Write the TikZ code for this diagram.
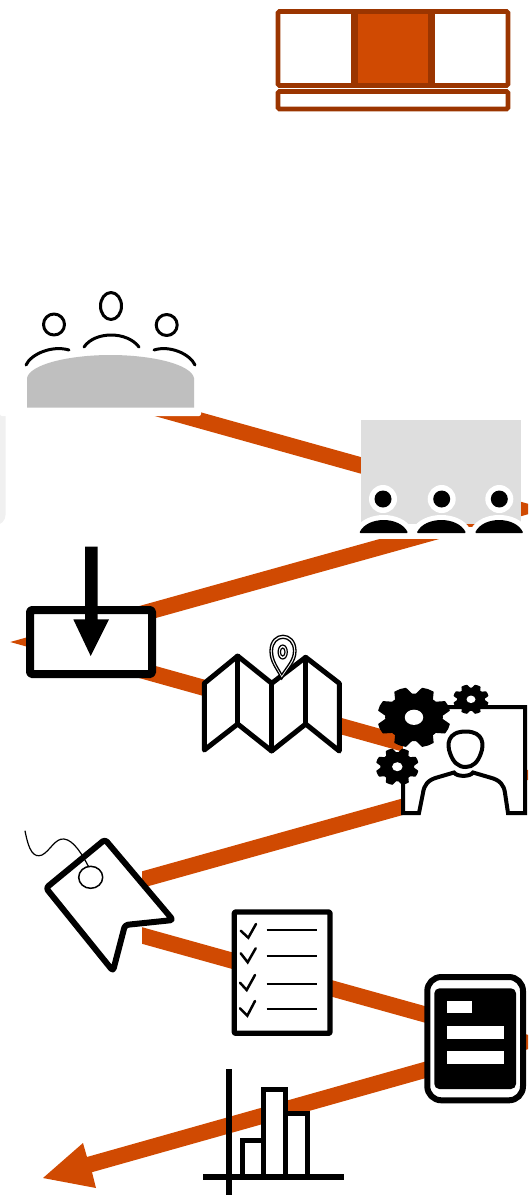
\documentclass[tikz,border=0pt]{standalone}
\definecolor{brand}{HTML}{D04A02}
\definecolor{branddark}{HTML}{9B3500}
\definecolor{tablegray}{HTML}{BFBFBF}
\definecolor{screengray}{HTML}{DEDEDE}
\definecolor{panelgray}{HTML}{F0F0F0}
\tikzset{
  route/.style={draw=brand,line width=16pt,line join=miter,line cap=butt},
  mask/.style={fill=white,draw=none},
  icon/.style={draw=black,fill=white,line width=#1,line join=round},
  icon/.default=5pt,
  stroke/.style={draw=black,line width=#1,line cap=round,line join=round},
  stroke/.default=3pt,
  frame/.style={draw=branddark,line width=4.7pt,rounded corners=1.5pt}
}
\newcommand{\gearicon}[5]{% x y rx ry hole ratio
  \begin{scope}[shift={(#1,#2)},xscale=#3,yscale=#4]
    \fill[black] (0,0) circle (0.78);
    \foreach \a in {22.5,67.5,...,337.5}{
      \fill[black,rotate=\a,rounded corners=0.4pt] (0.70,-0.26) -- (0.98,-0.17) -- (1,0) -- (0.98,0.17) -- (0.70,0.26) -- cycle;
    }
    \fill[white] (0,0) circle (#5);
  \end{scope}
}
\begin{document}
\begin{tikzpicture}[x=1pt,y=-1pt]
\useasboundingbox (0,0) rectangle (528,1195);
\clip (0,0) rectangle (528,1195);

% route vertices
\coordinate (r0) at (130,400.8);
\coordinate (r1) at (517,509);
\coordinate (r2) at (40,642);
\coordinate (r3) at (516,775);
\coordinate (r4) at (42,907.6);
\coordinate (r5) at (524,1042);
\coordinate (r6) at (88,1165);
\coordinate (tip) at (43,1178);
\coordinate (barbA) at (83,1143);
\coordinate (barbB) at (96,1188);

% side panel
\fill[panelgray,rounded corners=10pt] (-20,375) rectangle (5.5,525);

% route
\draw[route] (r0) -- (r1) -- (r2) -- (r3) -- (r4) -- (r5) -- (r6);
\fill[brand] (tip) -- (barbA) -- (87,1157) -- (92,1172) -- (barbB) -- cycle;

% masks that cut the route
\fill[mask,rounded corners=2pt] (0,350) rectangle (201,416);
\fill[mask] (355,527) rectangle (528,539);
\fill[mask] (0,860) rectangle (142,965);

% top layout icon
\fill[brand] (354.5,11.5) rectangle (431.5,85.5);
\draw[frame] (278,11.5) rectangle (508,85.5);
\draw[frame] (278,91.5) rectangle (508,109);
\draw[branddark,line width=7pt] (354.5,11.5) -- (354.5,85.5);
\draw[branddark,line width=7pt] (431.5,11.5) -- (431.5,85.5);

% meeting table
\draw[stroke=3pt] (54,324.5) circle (10.5);
\draw[stroke=3pt] (166.7,325) circle (10.5);
\draw[stroke=3pt] (111,306) ellipse (10.5 and 13.5);
\draw[stroke=3pt] (26,365) .. controls (31,354) and (52,345) .. (69,350);
\draw[stroke=3pt] (84,347) .. controls (95,331) and (127,331) .. (139,347);
\draw[stroke=3pt] (154,350) .. controls (170,345) and (190,354) .. (195,365);
\fill[tablegray] (27,407.7) -- (27,378) .. controls (30,364) and (70,355) .. (110.5,355) .. controls (151,355) and (191,364) .. (194,378) -- (194,407.7) -- cycle;

% audience
\fill[screengray] (361,420) rectangle (521,524);
\foreach \cx/\l/\r in {383/359.3/408,441.7/416.7/466,499.3/475/523.3}{
  \fill[white] (\cx,499) circle (14);
  \fill[black] (\cx,499) circle (8.5);
  \draw[white,line width=10pt,line join=round,fill=black] (\l,532) .. controls (\l+8,516) and (\r-8,516) .. (\r,532) -- cycle;
  \fill[black,rounded corners=1pt] (\l,533) .. controls (\l+8,516) and (\r-8,516) .. (\r,533) -- cycle;
}

% box with incoming arrow
\draw[icon=8pt,rounded corners=1.5pt] (30,610) rectangle (152,674);
\fill[black] (85,546.7) -- (97.7,546.7) -- (97.7,619.3) -- (109,619.3) -- (90.7,656) -- (73.3,619.3) -- (85,619.3) -- cycle;

% folded map
\fill[white] (204.3,683.3) -- (237.7,656) -- (271.7,683.3) -- (305.7,657.3) -- (339.3,683.3) -- (339.3,751) -- (305.7,724) -- (271.7,751) -- (237.7,724) -- (204.3,750) -- cycle;
\draw[stroke=5pt] (204.3,683.3) -- (237.7,656) -- (271.7,683.3) -- (305.7,657.3) -- (339.3,683.3) -- (339.3,751) -- (305.7,724) -- (271.7,751) -- (237.7,724) -- (204.3,750) -- cycle;
\draw[stroke=5pt] (237.7,656) -- (237.7,724) (271.7,683.3) -- (271.7,751) (305.7,657.3) -- (305.7,724);
\draw[draw=black,fill=white,line width=1.3pt] (281.7,679) .. controls (276,668) and (270,662) .. (270,651) .. controls (270,630) and (296,630) .. (296,651) .. controls (296,662) and (288,668) .. (281.7,679) -- cycle;
\draw[draw=black,line width=1.3pt] (281.8,674.5) .. controls (277,666) and (272.5,660) .. (272.5,651) .. controls (272.5,634) and (293.5,634) .. (293.5,651) .. controls (293.5,660) and (287,666) .. (281.8,674.5) -- cycle;
\draw[draw=black,line width=1.2pt] (282.7,652) ellipse (4.6 and 7);
\draw[draw=black,line width=1.2pt] (282.7,652) ellipse (2.3 and 4);

% person with gears
\fill[white] (403,707) -- (525,707) -- (525,813) -- (403,813) -- cycle;
\draw[stroke=4pt,line join=miter,line cap=butt] (440,707) -- (525,707) -- (525,813) -- (508,813) -- (505,793) .. controls (504,785) and (500,780) .. (490,777.5) -- (473,772.5) .. controls (470,777) and (457,777) .. (454,772.5) -- (437,777.5) .. controls (428,780) and (424,785) .. (423,793) -- (419,813) -- (403,813) -- (403,780);
\draw[stroke=4pt] (465.7,731.5) .. controls (447,731.5) and (447,745) .. (450,753) .. controls (453,762) and (458,767) .. (465.7,767) .. controls (473,767) and (478,762) .. (481,753) .. controls (484,745) and (484,731.5) .. (465.7,731.5) -- cycle;
\gearicon{414}{717.3}{37}{30.5}{0.25}
\gearicon{471}{699.3}{18}{15}{0.25}
\gearicon{397.3}{766.7}{21.7}{18.7}{0.24}

% tag with cord
\draw[icon=6pt,rounded corners=3pt] (105,839.5) -- (173,920) -- (125,925) -- (113,971) -- (46,888) -- cycle;
\draw[draw=black,line width=1.5pt] (90.7,877.3) ellipse (12 and 11);
\draw[draw=black,line width=1.2pt] (25,830.7) .. controls (29,852) and (34,858) .. (42,855) .. controls (50,851) and (55,838) .. (64,839) .. controls (74,840) and (83,856) .. (88.5,866.5);

% checklist
\draw[icon=5.3pt,rounded corners=1pt] (234.3,912) rectangle (330,1033.3);
\draw[stroke=2.5pt,line join=miter] (240.7,930.7) -- (248.3,937.7) -- (256,924);
\draw[stroke=2.5pt,line join=miter] (240.7,953.3) -- (247.7,962.3) -- (255.7,948.3);
\draw[stroke=2.5pt,line join=miter] (240,982.7) -- (246.7,990) -- (255,975);
\draw[stroke=2.5pt,line join=miter] (240,1008.3) -- (247.3,1015.7) -- (255,1001);
\foreach \y in {930,956.3,983.7,1009.3}{
  \draw[draw=black,line width=2.3pt] (266.7,\y) -- (316.7,\y);
}

% tablet
\draw[icon=6pt,rounded corners=14pt] (427.3,977) rectangle (523,1100.3);
\fill[black,rounded corners=5pt] (434.3,988.3) rectangle (516,1089);
\fill[white] (446.7,1001) rectangle (472.3,1013.3);
\fill[white] (446.7,1026) rectangle (503.7,1038.7);
\fill[white] (446.7,1051) rectangle (503.7,1063.7);

% bar chart
\draw[icon=5pt,line join=miter] (242.5,1177) -- (242.5,1140) -- (263.5,1140) -- (263.5,1177);
\draw[icon=5pt,line join=miter] (263.5,1177) -- (263.5,1089.5) -- (285,1089.5) -- (285,1177);
\draw[icon=5pt,line join=miter] (285,1177) -- (285,1113) -- (307,1113) -- (307,1177);
\draw[draw=black,line width=5.7pt] (229.3,1069) -- (229.3,1195);
\draw[draw=black,line width=6pt] (203.3,1177.3) -- (344,1177.3);
\end{tikzpicture}
\end{document}
